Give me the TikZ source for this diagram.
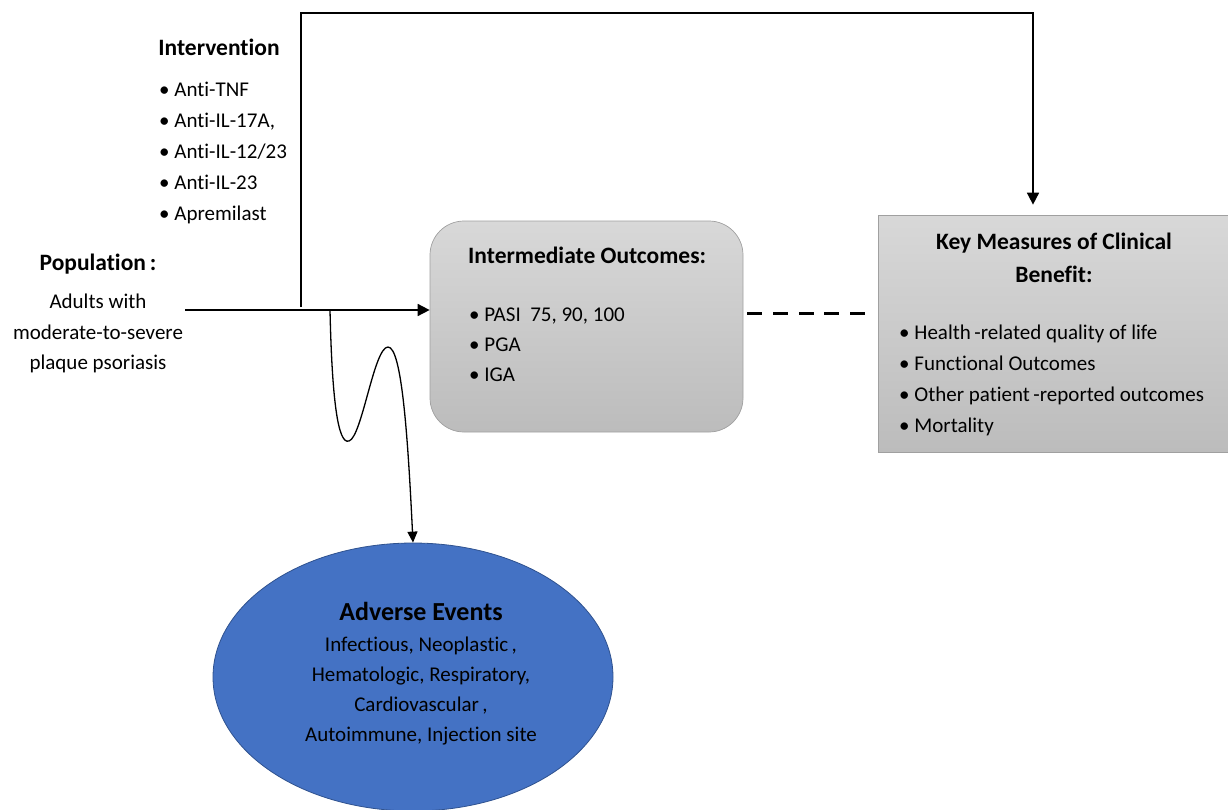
\documentclass[tikz,border=0pt]{standalone}
\usepackage{fontspec}
\setmainfont{Carlito}[Ligatures=NoCommon]
\usetikzlibrary{shapes.geometric,arrows.meta,calc}
\definecolor{aeblue}{HTML}{4472C4}
\definecolor{aeborder}{HTML}{2F528F}
\definecolor{boxtop}{HTML}{D8D8D8}
\definecolor{boxbot}{HTML}{BCBCBC}
\definecolor{boxline}{HTML}{A0A0A0}
\tikzset{
  body/.style={font=\fontsize{21}{30}\selectfont, inner sep=0pt},
  ttl/.style={font=\fontsize{23.5}{33}\selectfont\bfseries, inner sep=0pt},
  conn/.style={line width=1.6pt, -{Triangle[length=12pt,width=12pt]}},
  graybox/.style={draw=boxline, top color=boxtop, bottom color=boxbot, line width=0.7pt},
}
\begin{document}
\begin{tikzpicture}[x=1pt,y=-1pt]
\useasboundingbox (0,0) rectangle (1228,809);
% Intervention
\node[ttl, anchor=base] (intt) at (219,55.5) {Intervention};
\foreach \t [count=\i] in {Anti-TNF,Anti-IL-17A{,},Anti-IL-12/23,Anti-IL-23,Apremilast}
  \node[body, anchor=base west] (int\i) at (159,{96.8+30.8*(\i-1)}) {\textbullet\ \t};
% Population
\node[ttl, anchor=base] (popt) at (98,270.5) {Population\,:};
\node[body, anchor=base] (pop1) at (98,308.7) {Adults with};
\node[body, anchor=base] (pop2) at (98,339.7) {moderate-to-severe};
\node[body, anchor=base] (pop3) at (98,369.7) {plaque psoriasis};
% Intermediate outcomes box
\node[graybox, rounded corners=34pt, minimum width=313pt, minimum height=211pt, inner sep=0pt] (inter) at (586.5,326.5) {};
\node[ttl, anchor=base west] (intert) at (468,263.5) {Intermediate Outcomes:};
\node[body, anchor=base west] (inter1) at (469,321.7) {\textbullet\ PASI\ \ 75, 90, 100};
\node[body, anchor=base west] (inter2) at (469,351.7) {\textbullet\ PGA};
\node[body, anchor=base west] (inter3) at (469,381.7) {\textbullet\ IGA};
% Key measures box
\node[graybox, minimum width=350pt, minimum height=237pt, inner sep=0pt] (key) at (1053,333.5) {};
\node[ttl, anchor=base] (keyt1) at (1054,249.5) {Key Measures of Clinical};
\node[ttl, anchor=base] (keyt2) at (1054,282.5) {Benefit:};
\foreach \t [count=\i] in {Health\,-related quality of life,Functional Outcomes,Other patient\,-reported outcomes,Mortality}
  \node[body, anchor=base west] (key\i) at (899,{339.7+31*(\i-1)}) {\textbullet\ \t};
% Adverse events
\node[ellipse, draw=aeborder, fill=aeblue, line width=0.8pt, minimum width=400pt, minimum height=268pt, inner sep=0pt] (ae) at (413,677) {};
\node[font=\fontsize{26}{30}\selectfont\bfseries, inner sep=0pt, anchor=base] (aet) at (421,620.5) {Adverse Events};
\node[body, anchor=base] (ae1) at (421,651.7) {Infectious, Neoplastic\,,};
\node[body, anchor=base] (ae2) at (421,681.7) {Hematologic, Respiratory,};
\node[body, anchor=base] (ae3) at (421,711.7) {Cardiovascular\,,};
\node[body, anchor=base] (ae4) at (421,741.7) {Autoimmune, Injection site};
% connectors
\coordinate (pstart) at (185,310);
\coordinate (jn) at (301,307);
\coordinate (topc) at (1033,13);
\coordinate (wv) at (330,310);
\draw[conn] (pstart) -- (pstart -| inter.west);
\draw[conn] (jn) |- (topc) -- ($(topc |- key.north)+(0,-10)$);
\draw[line width=3pt, dash pattern=on 15pt off 10.7pt] ($(inter.east)+(4,-13.5)$) -- ($(key.west)+(-12,-20.5)$);
\draw[line width=1.3pt, -{Triangle[length=11pt,width=10pt]}] (wv)
  .. controls (332,400) and (338,445) .. (349,441)
  .. controls (362,437) and (374,347) .. (388,347)
  .. controls (402,347) and (408,440) .. (ae.north);
\end{tikzpicture}
\end{document}
